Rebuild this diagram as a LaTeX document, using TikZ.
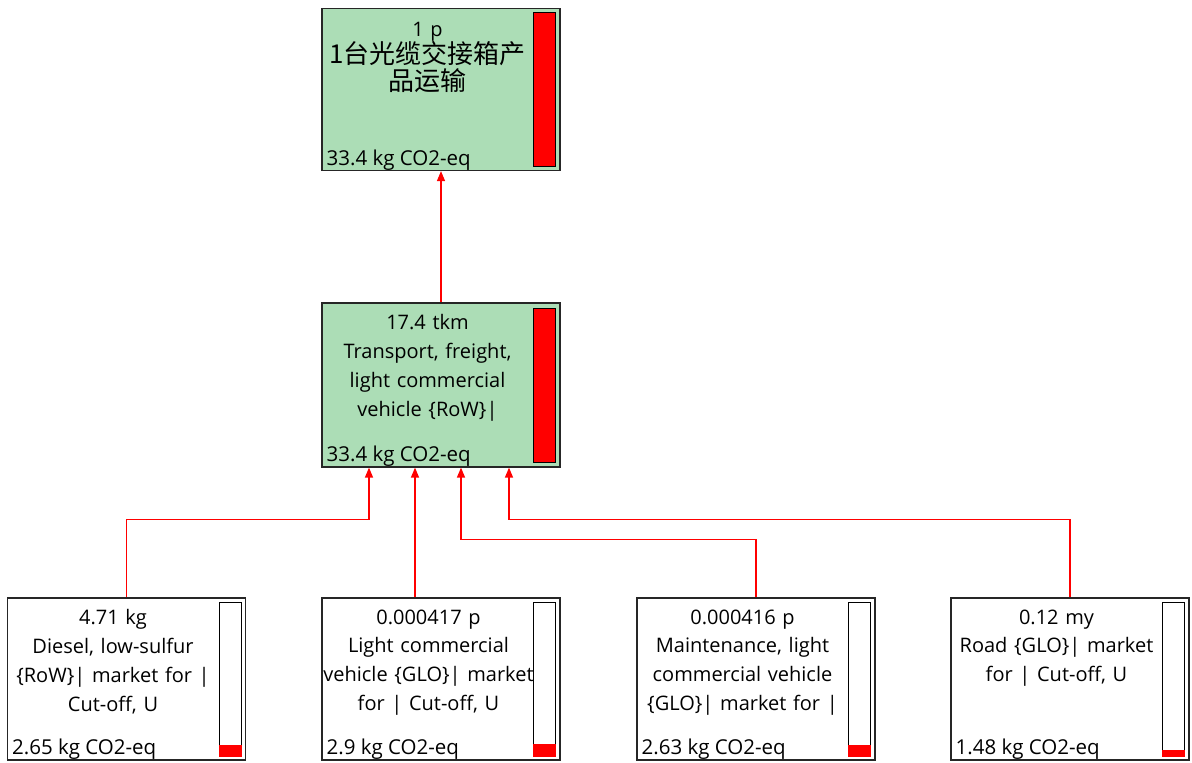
\documentclass[tikz,border=0pt]{standalone}
\usepackage{fontspec}
\setmainfont{Open Sans}
\newfontfamily\cjk{Noto Sans CJK SC}
\usetikzlibrary{arrows.meta,positioning}
\definecolor{procgreen}{RGB}{172,221,182}

\begin{document}
\begin{tikzpicture}[x=1pt,y={(0,-1pt)},
    box/.style={draw=black!85,line width=1.2pt,minimum width=238pt,minimum height=162pt,inner sep=0pt},
    bar/.style={draw=black,line width=1pt,minimum width=22pt,minimum height=154pt,inner sep=0pt},
    txt/.style={font=\fontsize{20}{28.8}\selectfont,align=center,text width=230pt,anchor=north,inner sep=0pt},
    val/.style={font=\fontsize{20.5}{24}\selectfont,anchor=base west,inner sep=0pt},
    flow/.style={red,line width=1.3pt,-{Triangle[width=8pt,length=10pt]}}]
    \useasboundingbox (0,0) rectangle (1192,763);
    % top process
    \node[box,fill=procgreen] (prod) at (441,89.5) {};
    \node[bar,fill=red] (prodbar) at ([xshift=-16pt]prod.east) {};
    \node[txt,font=\fontsize{20}{27}\selectfont] (prodtxt) at ([xshift=-13.5pt,yshift=-14pt]prod.north) {1 p\\{\cjk\fontsize{26}{27}\selectfont 1台光缆交接箱产\\品运输}};
    \node[val] (prodval) at ([xshift=5pt,yshift=6pt]prod.south west) {33.4 kg CO2-eq};
    % transport
    \node[box,fill=procgreen,minimum height=164pt] (trans) at (441,385) {};
    \node[bar,fill=red] (transbar) at ([xshift=-16pt]trans.east) {};
    \node[txt] (transtxt) at ([xshift=-13.5pt,yshift=-12pt]trans.north) {17.4 tkm\\Transport, freight,\\light commercial\\vehicle \{RoW\}|};
    \node[val] (transval) at ([xshift=5pt,yshift=6pt]trans.south west) {33.4 kg CO2-eq};
    % inputs
    \node[box] (diesel) at (126.5,679) {};
    \node[bar] (dieselbar) at ([xshift=-16pt]diesel.east) {};
    \fill[red] (dieselbar.south west) rectangle ([yshift=12pt]dieselbar.south east);
    \node[txt] (dieseltxt) at ([xshift=-13.5pt,yshift=-12pt]diesel.north) {4.71 kg\\Diesel, low-sulfur\\\{RoW\}| market for |\\Cut-off, U};
    \node[val] (dieselval) at ([xshift=5pt,yshift=6pt]diesel.south west) {2.65 kg CO2-eq};

    \node[box] (vehicle) at (441,679) {};
    \node[bar] (vehiclebar) at ([xshift=-16pt]vehicle.east) {};
    \fill[red] (vehiclebar.south west) rectangle ([yshift=13pt]vehiclebar.south east);
    \node[txt] (vehicletxt) at ([xshift=-12.5pt,yshift=-12pt]vehicle.north) {0.000417 p\\Light commercial\\vehicle \{GLO\}| market\\for | Cut-off, U};
    \node[val] (vehicleval) at ([xshift=5pt,yshift=6pt]vehicle.south west) {2.9 kg CO2-eq};

    \node[box] (maint) at (756,679) {};
    \node[bar] (maintbar) at ([xshift=-16pt]maint.east) {};
    \fill[red] (maintbar.south west) rectangle ([yshift=12pt]maintbar.south east);
    \node[txt] (mainttxt) at ([xshift=-13.5pt,yshift=-12pt]maint.north) {0.000416 p\\Maintenance, light\\commercial vehicle\\\{GLO\}| market for |};
    \node[val] (maintval) at ([xshift=5pt,yshift=6pt]maint.south west) {2.63 kg CO2-eq};

    \node[box] (road) at (1070,679) {};
    \node[bar] (roadbar) at ([xshift=-16pt]road.east) {};
    \fill[red] (roadbar.south west) rectangle ([yshift=7pt]roadbar.south east);
    \node[txt] (roadtxt) at ([xshift=-13.5pt,yshift=-12pt]road.north) {0.12 my\\Road \{GLO\}| market\\for | Cut-off, U};
    \node[val] (roadval) at ([xshift=5pt,yshift=6pt]road.south west) {1.48 kg CO2-eq};
    % flows
    \draw[flow] (trans.north) -- (prod.south);
    \draw[flow] (diesel.north) -- ++(0,-78) -| ([xshift=-72pt]trans.south);
    \draw[flow] ([xshift=-26pt]vehicle.north) -- ([xshift=-26pt]trans.south);
    \draw[flow] (maint.north) -- ++(0,-58) -| ([xshift=20pt]trans.south);
    \draw[flow] (road.north) -- ++(0,-78) -| ([xshift=68pt]trans.south);
\end{tikzpicture}
\end{document}
